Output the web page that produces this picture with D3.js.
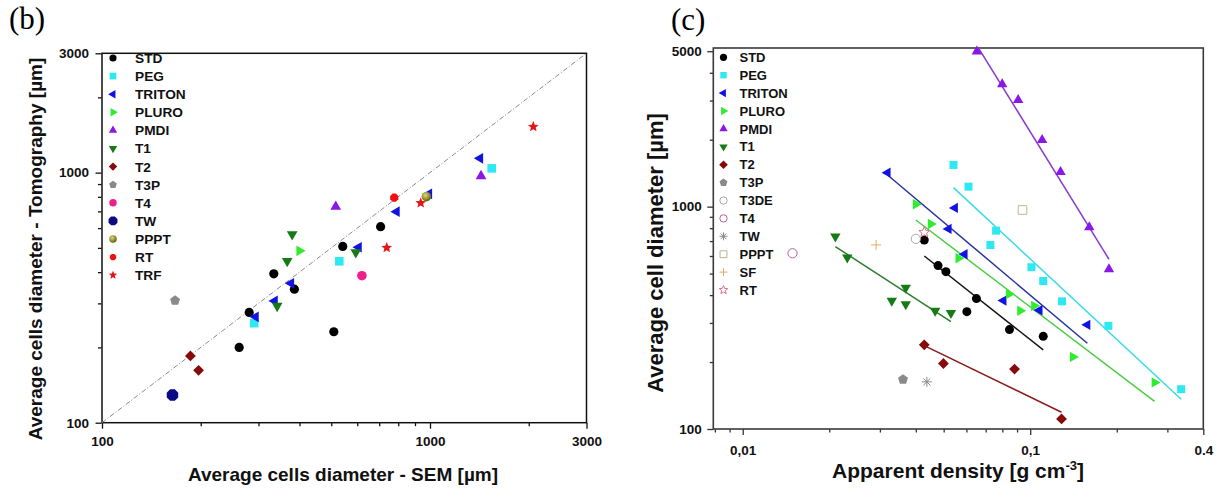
<!DOCTYPE html>
<html>
<head>
<meta charset="utf-8">
<script src="https://cdn.jsdelivr.net/npm/d3@7"></script>
<style>
  body { margin: 0; background: #fff; }
</style>
</head>
<body>
<script>
// ---------------- Panel (b) data: SEM vs Tomography (µm) ----------------
const bAxisMin = 100, bAxisMax = 3000;
const bMajorTicks = [100, 1000, 3000];
const bMinorTicks = [200, 300, 400, 500, 600, 700, 800, 900, 2000];

const bStdSem   = [281, 334, 386, 262, 509, 542, 707];
const bStdTomo  = [276, 394, 342, 200, 231, 507, 608];
const bPegSem   = [291, 529, 1542];
const bPegTomo  = [250, 442, 1040];
const bTritonSem  = [294, 336, 377, 606, 791, 993, 1421];
const bTritonTomo = [265, 307, 361, 503, 698, 823, 1141];
const bPluroSem  = [400];
const bPluroTomo = [487];
const bPmdiSem  = [516, 1431];
const bPmdiTomo = [731, 969];
const bT1Sem  = [380, 367, 342, 594];
const bT1Tomo = [567, 443, 293, 480];
const bT2Sem  = [186, 197];
const bT2Tomo = [185, 162];
const bT3pSem  = [167];
const bT3pTomo = [308];
const bT4Sem  = [620];
const bT4Tomo = [387];
const bTwSem  = [164];
const bTwTomo = [129];
const bPpptSem  = [975];
const bPpptTomo = [801];
const bRtSem  = [778];
const bRtTomo = [794];
const bTrfSem  = [2065, 937, 738];
const bTrfTomo = [1526, 756, 501];
const bLegendNames = ["STD","PEG","TRITON","PLURO","PMDI","T1","T2","T3P","T4","TW","PPPT","RT","TRF"];

// ---------------- Panel (c) data: apparent density vs cell diameter ----------------
const cXMin = 0.0079, cXMax = 0.4, cYMin = 100, cYMax = 5170;
const cXMajorTicks = [0.01, 0.1, 0.4];
const cXTickLabels = ["0,01", "0,1", "0.4"];
const cXMinorTicks = [0.008, 0.009, 0.02, 0.03, 0.04, 0.05, 0.06, 0.07, 0.08, 0.09, 0.2, 0.3];
const cYMajorTicks = [100, 1000, 5000];
const cYMinorTicks = [200, 300, 400, 500, 600, 700, 800, 900, 2000, 3000, 4000];

const cStdDen = [0.0428, 0.0478, 0.0509, 0.0602, 0.0650, 0.0847, 0.111];
const cStdDia = [708, 543, 510, 337, 386, 280, 261];
const cPegDen = [0.0541, 0.0610, 0.0727, 0.0761, 0.101, 0.111, 0.129, 0.187, 0.335];
const cPegDia = [1540, 1230, 672, 780, 534, 463, 375, 291, 151];
const cTritonDen = [0.0319, 0.0547, 0.0520, 0.0591, 0.0807, 0.1077, 0.158];
const cTritonDia = [1422, 987, 794, 611, 378, 342, 294];
const cPluroDen = [0.0400, 0.0451, 0.0563, 0.0843, 0.0923, 0.1032, 0.1408, 0.2708];
const cPluroDia = [1025, 836, 586, 404, 340, 358, 211, 162];
const cPmdiDen = [0.0652, 0.0799, 0.0908, 0.110, 0.1275, 0.1605, 0.1879];
const cPmdiDia = [4980, 3553, 3020, 1995, 1432, 808, 523];
const cT1Den = [0.0210, 0.0231, 0.0369, 0.0330, 0.0369, 0.0467, 0.0530];
const cT1Dia = [735, 590, 432, 377, 364, 340, 332];
const cT2Den = [0.0428, 0.0499, 0.0882, 0.1285];
const cT2Dia = [239, 197, 186, 111];
const cT3pDen = [0.0361];  const cT3pDia = [167];
const cT3deDen = [0.0400]; const cT3deDia = [716];
const cT4Den = [0.0149];   const cT4Dia = [617];
const cTwDen = [0.0437];   const cTwDia = [163];
const cPpptDen = [0.094];  const cPpptDia = [966];
const cSfDen = [0.0291];   const cSfDia = [673];
const cRtDen = [0.0428];   const cRtDia = [767];
const cLegendNames = ["STD","PEG","TRITON","PLURO","PMDI","T1","T2","T3P","T3DE","T4","TW","PPPT","SF","RT"];

// fitted lines (end points)
const cStdFitDen = [0.0428, 0.111];    const cStdFitDia = [600, 227];
const cPegFitDen = [0.0541, 0.335];    const cPegFitDia = [1218, 136];
const cTritonFitDen = [0.0319, 0.158]; const cTritonFitDia = [1388, 243];
const cPluroFitDen = [0.0400, 0.2708]; const cPluroFitDia = [871, 133];
const cPmdiFitDen = [0.0652, 0.1879];  const cPmdiFitDia = [5316, 580];
const cT1FitDen = [0.0210, 0.0530];    const cT1FitDia = [661, 304];
const cT2FitDen = [0.0428, 0.1285];    const cT2FitDia = [237, 119];

// ---------------- drawing ----------------
const W = 1223, H = 488;
const svg = d3.select("body").append("svg").attr("width", W).attr("height", H)
  .style("background", "#fff");

const defs = svg.append("defs");
const grad = defs.append("radialGradient").attr("id", "olive").attr("cx", "40%").attr("cy", "35%").attr("r", "65%");
grad.append("stop").attr("offset", "0%").attr("stop-color", "#d8d890");
grad.append("stop").attr("offset", "55%").attr("stop-color", "#9a9a30");
grad.append("stop").attr("offset", "100%").attr("stop-color", "#5e5e10");

function poly(n, r, rotDeg) {
  const pts = [];
  for (let i = 0; i < n; i++) {
    const a = (rotDeg + i * 360 / n) * Math.PI / 180;
    pts.push([r * Math.cos(a), r * Math.sin(a)]);
  }
  return "M" + pts.map(p => p[0].toFixed(2) + "," + p[1].toFixed(2)).join("L") + "Z";
}
function star(r, ri) {
  const pts = [];
  for (let i = 0; i < 10; i++) {
    const a = (-90 + i * 36) * Math.PI / 180;
    const rr = i % 2 ? ri : r;
    pts.push([rr * Math.cos(a), rr * Math.sin(a)]);
  }
  return "M" + pts.map(p => p[0].toFixed(2) + "," + p[1].toFixed(2)).join("L") + "Z";
}
function shapePath(type, r) {
  switch (type) {
    case "circle": return d3.symbol(d3.symbolCircle, Math.PI * r * r)();
    case "square": return `M${-r},${-r}h${2*r}v${2*r}h${-2*r}Z`;
    case "triU": return poly(3, r, -90);
    case "triD": return poly(3, r, 90);
    case "triL": return poly(3, r, 180);
    case "triR": return poly(3, r, 0);
    case "diamond": return poly(4, r, 0);
    case "pentagon": return poly(5, r, -90);
    case "octagon": return poly(8, r, 22.5);
    case "star": return star(r, r * 0.45);
    case "plus": return `M${-r},0H${r}M0,${-r}V${r}`;
    case "asterisk": {
      const d = r * 0.707;
      return `M${-r},0H${r}M0,${-r}V${r}M${-d},${-d}L${d},${d}M${-d},${d}L${d},${-d}`;
    }
  }
}
function drawMarker(g, x, y, st, scale) {
  const s = scale || 1;
  const p = g.append("path").attr("d", shapePath(st.shape, st.r * s))
    .attr("transform", `translate(${x},${y})`);
  if (st.open) {
    p.attr("fill", st.shape === "plus" || st.shape === "asterisk" ? "none" : "#fff")
     .attr("stroke", st.color).attr("stroke-width", 1);
  } else {
    p.attr("fill", st.fill || st.color).attr("stroke", st.stroke || "none")
     .attr("stroke-width", 0.6);
  }
}

const font = "'Liberation Sans', Arial, sans-serif";
const serif = "'Liberation Serif', 'Times New Roman', serif";

function styleAxis(g, size) {
  g.selectAll("text").style("font-family", font).attr("font-weight", "bold")
    .attr("font-size", size).attr("fill", "#111");
  g.selectAll("line").attr("stroke", "#111").attr("stroke-width", 1.3);
  g.select(".domain").remove();
}

// ===== Panel (b) =====
const xB = d3.scaleLog().domain([bAxisMin, bAxisMax]).range([102, 586.5]);
const yB = d3.scaleLog().domain([bAxisMin, bAxisMax]).range([422.7, 53.3]);

const gB = svg.append("g");
const bxMaj = gB.append("g").attr("transform", "translate(0,422.7)")
  .call(d3.axisBottom(xB).tickValues(bMajorTicks).tickSize(6).tickPadding(8).tickFormat(d3.format("d")));
styleAxis(bxMaj, 13.5);
const bxMin = gB.append("g").attr("transform", "translate(0,422.7)")
  .call(d3.axisBottom(xB).tickValues(bMinorTicks).tickSize(3.5).tickFormat(""));
styleAxis(bxMin, 13.5);
const byMaj = gB.append("g").attr("transform", "translate(101.5,0)")
  .call(d3.axisLeft(yB).tickValues(bMajorTicks).tickSize(6).tickPadding(6.5).tickFormat(d3.format("d")));
styleAxis(byMaj, 13.5);
const byMin = gB.append("g").attr("transform", "translate(101.5,0)")
  .call(d3.axisLeft(yB).tickValues(bMinorTicks).tickSize(3.5).tickFormat(""));
styleAxis(byMin, 13.5);

gB.append("rect").attr("x", xB.range()[0]).attr("y", yB.range()[1])
  .attr("width", xB.range()[1] - xB.range()[0]).attr("height", yB.range()[0] - yB.range()[1])
  .attr("fill", "none").attr("stroke", "#111").attr("stroke-width", 1.5);

gB.append("line")
  .attr("x1", xB(bAxisMin)).attr("y1", yB(bAxisMin))
  .attr("x2", xB(bAxisMax)).attr("y2", yB(bAxisMax))
  .attr("stroke", "#8a8a8a").attr("stroke-width", 1).attr("stroke-dasharray", "5,2,1,2");

const bSeries = [
  { name: "STD",    xs: bStdSem,    ys: bStdTomo,    st: { shape: "circle",   r: 4.6, color: "#000" } },
  { name: "PEG",    xs: bPegSem,    ys: bPegTomo,    st: { shape: "square",   r: 4.3, color: "#2ee8f2" } },
  { name: "TRITON", xs: bTritonSem, ys: bTritonTomo, st: { shape: "triL",     r: 6.2, color: "#1212e2" } },
  { name: "PLURO",  xs: bPluroSem,  ys: bPluroTomo,  st: { shape: "triR",     r: 6.2, color: "#30ec30" } },
  { name: "PMDI",   xs: bPmdiSem,   ys: bPmdiTomo,   st: { shape: "triU",     r: 6.2, color: "#8a16e8" } },
  { name: "T1",     xs: bT1Sem,     ys: bT1Tomo,     st: { shape: "triD",     r: 6.2, color: "#167a16" } },
  { name: "T2",     xs: bT2Sem,     ys: bT2Tomo,     st: { shape: "diamond",  r: 5.4, color: "#860a0a" } },
  { name: "T3P",    xs: bT3pSem,    ys: bT3pTomo,    st: { shape: "pentagon", r: 5.2, color: "#8a8a8a" } },
  { name: "T4",     xs: bT4Sem,     ys: bT4Tomo,     st: { shape: "circle",   r: 4.8, color: "#f0208a" } },
  { name: "TW",     xs: bTwSem,     ys: bTwTomo,     st: { shape: "octagon",  r: 6.2, color: "#0a0a82" } },
  { name: "PPPT",   xs: bPpptSem,   ys: bPpptTomo,   st: { shape: "circle",   r: 4.8, color: "#8a8a20", fill: "url(#olive)" } },
  { name: "RT",     xs: bRtSem,     ys: bRtTomo,     st: { shape: "octagon",  r: 4.4, color: "#f01010" } },
  { name: "TRF",    xs: bTrfSem,    ys: bTrfTomo,    st: { shape: "star",     r: 5.6, color: "#e01818" } },
];

const bPts = gB.append("g");
bSeries.forEach(s => s.xs.forEach((v, i) => drawMarker(bPts, xB(v), yB(s.ys[i]), s.st)));

const bLeg = gB.append("g");
bLegendNames.forEach((nm, i) => {
  const s = bSeries.find(d => d.name === nm);
  const y = 58 + i * 18.1;
  drawMarker(bLeg, 113, y, s.st, 0.78);
  bLeg.append("text").attr("x", 135).attr("y", y).attr("dy", "0.36em")
    .style("font-family", font).attr("font-weight", "bold").attr("font-size", 13.7)
    .attr("fill", "#111").text(nm);
});

gB.append("text").attr("transform", "translate(42,249) rotate(-90)")
  .attr("text-anchor", "middle").style("font-family", font).attr("font-weight", "bold")
  .attr("font-size", 19).attr("fill", "#111").text("Average cells diameter - Tomography [µm]");
gB.append("text").attr("x", 343).attr("y", 481)
  .attr("text-anchor", "middle").style("font-family", font).attr("font-weight", "bold")
  .attr("font-size", 19).attr("fill", "#111").text("Average cells diameter - SEM [µm]");
gB.append("text").attr("x", 9).attr("y", 29)
  .style("font-family", serif).attr("font-size", 31)
  .attr("fill", "#000").text("(b)");

// ===== Panel (c) =====
const xC = d3.scaleLog().domain([cXMin, cXMax]).range([713.3, 1203.3]);
const yC = d3.scaleLog().domain([cYMin, cYMax]).range([429, 48]);
const gC = svg.append("g");

const cxMaj = gC.append("g").attr("transform", "translate(0,429)")
  .call(d3.axisBottom(xC).tickValues(cXMajorTicks).tickSize(6).tickPadding(10)
    .tickFormat((d, i) => cXTickLabels[i]));
styleAxis(cxMaj, 13.5);
const cxMin = gC.append("g").attr("transform", "translate(0,429)")
  .call(d3.axisBottom(xC).tickValues(cXMinorTicks).tickSize(3.5).tickFormat(""));
styleAxis(cxMin, 13.5);
const cyMaj = gC.append("g").attr("transform", "translate(713.3,0)")
  .call(d3.axisLeft(yC).tickValues(cYMajorTicks).tickSize(6).tickPadding(5.5).tickFormat(d3.format("d")));
styleAxis(cyMaj, 13.5);
const cyMin = gC.append("g").attr("transform", "translate(713.3,0)")
  .call(d3.axisLeft(yC).tickValues(cYMinorTicks).tickSize(3.5).tickFormat(""));
styleAxis(cyMin, 13.5);
gC.selectAll("line").attr("stroke", "#333");

gC.append("rect").attr("x", xC.range()[0]).attr("y", yC.range()[1])
  .attr("width", xC.range()[1] - xC.range()[0]).attr("height", yC.range()[0] - yC.range()[1])
  .attr("fill", "none").attr("stroke", "#3a3a3a").attr("stroke-width", 1.6);

defs.append("clipPath").attr("id", "clipC").append("rect")
  .attr("x", xC.range()[0]).attr("y", yC.range()[1])
  .attr("width", xC.range()[1] - xC.range()[0]).attr("height", yC.range()[0] - yC.range()[1]);

const cFits = [
  { xs: cStdFitDen,    ys: cStdFitDia,    color: "#151515" },
  { xs: cPegFitDen,    ys: cPegFitDia,    color: "#38dbe6" },
  { xs: cTritonFitDen, ys: cTritonFitDia, color: "#2a349c" },
  { xs: cPluroFitDen,  ys: cPluroFitDia,  color: "#4ccc44" },
  { xs: cPmdiFitDen,   ys: cPmdiFitDia,   color: "#8a3ccc" },
  { xs: cT1FitDen,     ys: cT1FitDia,     color: "#2e7d2e" },
  { xs: cT2FitDen,     ys: cT2FitDia,     color: "#8b1c1c" },
];
const lineGen = d3.line().x(d => xC(d[0])).y(d => yC(d[1]));
const gLines = gC.append("g").attr("clip-path", "url(#clipC)");
cFits.forEach(f => {
  gLines.append("path").attr("d", lineGen(f.xs.map((v, i) => [v, f.ys[i]])))
    .attr("fill", "none").attr("stroke", f.color).attr("stroke-width", 1.5);
});

const cSeries = [
  { name: "STD",    xs: cStdDen,    ys: cStdDia,    st: { shape: "circle",   r: 4.5, color: "#000" } },
  { name: "PEG",    xs: cPegDen,    ys: cPegDia,    st: { shape: "square",   r: 4.0, color: "#2ee8f2" } },
  { name: "TRITON", xs: cTritonDen, ys: cTritonDia, st: { shape: "triL",     r: 6.0, color: "#1212e2" } },
  { name: "PLURO",  xs: cPluroDen,  ys: cPluroDia,  st: { shape: "triR",     r: 6.0, color: "#30ec30" } },
  { name: "PMDI",   xs: cPmdiDen,   ys: cPmdiDia,   st: { shape: "triU",     r: 6.0, color: "#8a16e8" } },
  { name: "T1",     xs: cT1Den,     ys: cT1Dia,     st: { shape: "triD",     r: 6.0, color: "#167a16" } },
  { name: "T2",     xs: cT2Den,     ys: cT2Dia,     st: { shape: "diamond",  r: 5.4, color: "#860a0a" } },
  { name: "T3P",    xs: cT3pDen,    ys: cT3pDia,    st: { shape: "pentagon", r: 5.2, color: "#8a8a8a" } },
  { name: "T3DE",   xs: cT3deDen,   ys: cT3deDia,   st: { shape: "circle",   r: 4.6, color: "#a8a8a8", open: true } },
  { name: "T4",     xs: cT4Den,     ys: cT4Dia,     st: { shape: "circle",   r: 4.6, color: "#b8609a", open: true } },
  { name: "TW",     xs: cTwDen,     ys: cTwDia,     st: { shape: "asterisk", r: 5.0, color: "#8a8a8a", open: true } },
  { name: "PPPT",   xs: cPpptDen,   ys: cPpptDia,   st: { shape: "square",   r: 4.3, color: "#bdb592", open: true } },
  { name: "SF",     xs: cSfDen,     ys: cSfDia,     st: { shape: "plus",     r: 5.0, color: "#e8a860", open: true } },
  { name: "RT",     xs: cRtDen,     ys: cRtDia,     st: { shape: "star",     r: 5.6, color: "#e0708a", open: true } },
];
const cPts = gC.append("g");
cSeries.forEach(s => s.xs.forEach((v, i) => drawMarker(cPts, xC(v), yC(s.ys[i]), s.st)));

const cLeg = gC.append("g");
cLegendNames.forEach((nm, i) => {
  const s = cSeries.find(d => d.name === nm);
  const y = 57.3 + i * 17.9;
  drawMarker(cLeg, 723.5, y, s.st, 0.8);
  cLeg.append("text").attr("x", 739.5).attr("y", y).attr("dy", "0.36em")
    .style("font-family", font).attr("font-weight", "bold").attr("font-size", 13)
    .attr("fill", "#111").text(nm);
});

gC.append("text").attr("transform", "translate(663,253) rotate(-90)")
  .attr("text-anchor", "middle").style("font-family", font).attr("font-weight", "bold")
  .attr("font-size", 22).attr("fill", "#111").text("Average cell diameter [µm]");
const xl = gC.append("text").attr("x", 958).attr("y", 477.5)
  .attr("text-anchor", "middle").style("font-family", font).attr("font-weight", "bold")
  .attr("font-size", 21).attr("fill", "#111");
xl.append("tspan").text("Apparent density [g cm");
xl.append("tspan").attr("font-size", 13).attr("dy", -8).text("-3");
xl.append("tspan").attr("dy", 8).text("]");
gC.append("text").attr("x", 671).attr("y", 30)
  .style("font-family", serif).attr("font-size", 31)
  .attr("fill", "#000").text("(c)");
</script>
</body>
</html>
